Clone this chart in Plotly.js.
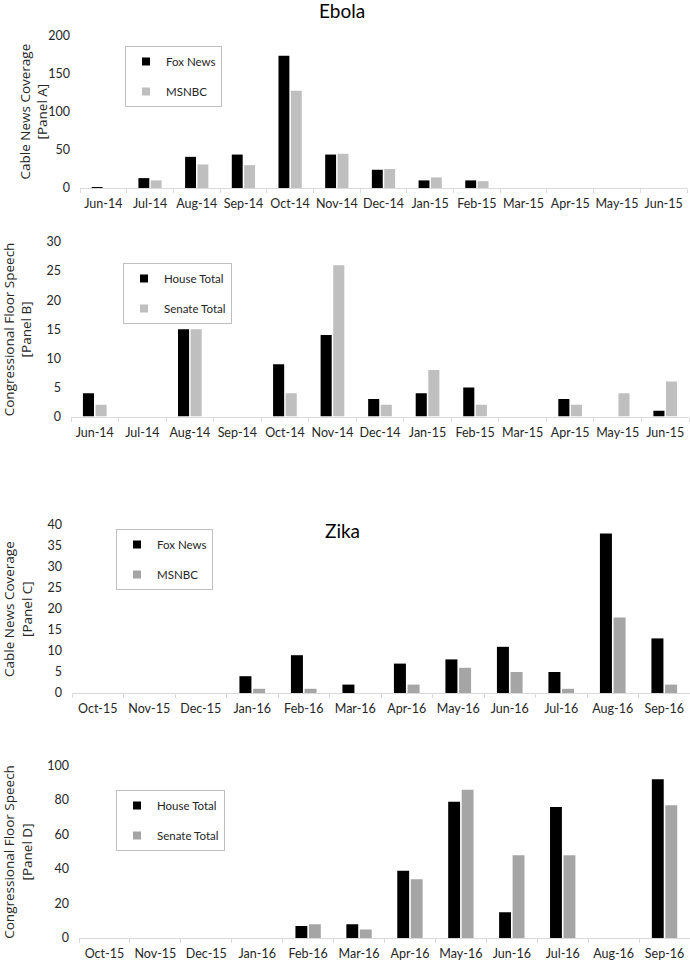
<!DOCTYPE html>
<html>
<head>
<meta charset="utf-8">
<script src="https://cdn.plot.ly/plotly-3.0.1.min.js"></script>
<style>
  html, body { margin: 0; padding: 0; background: #ffffff; }
  #chart { width: 690px; height: 963px; }
</style>
</head>
<body>
<div id="chart"></div>
<script>
// ---------- Data ----------
const ebolaMonths = ['Jun-14','Jul-14','Aug-14','Sep-14','Oct-14','Nov-14','Dec-14','Jan-15','Feb-15','Mar-15','Apr-15','May-15','Jun-15'];
const ebolaFox    = [1, 13, 41, 44, 174, 44, 24, 10, 10, 0, 0, 0, 0];
const ebolaMsnbc  = [0, 10, 31, 30, 128, 45, 25, 14, 9, 0, 0, 0, 0];
const ebolaHouse  = [4, 0, 15, 0, 9, 14, 3, 4, 5, 0, 3, 0, 1];
const ebolaSenate = [2, 0, 15, 0, 4, 26, 2, 8, 2, 0, 2, 4, 6];

const zikaMonths = ['Oct-15','Nov-15','Dec-15','Jan-16','Feb-16','Mar-16','Apr-16','May-16','Jun-16','Jul-16','Aug-16','Sep-16'];
const zikaFox    = [0, 0, 0, 4, 9, 2, 7, 8, 11, 5, 38, 13];
const zikaMsnbc  = [0, 0, 0, 1, 1, 0, 2, 6, 5, 1, 18, 2];
const zikaHouse  = [0, 0, 0, 0, 7, 8, 39, 79, 15, 76, 0, 92];
const zikaSenate = [0, 0, 0, 0, 8, 5, 34, 86, 48, 48, 0, 77];

const panelTitles = ['Cable News Coverage<br>[Panel A]', 'Congressional Floor Speech<br>[Panel B]',
                     'Cable News Coverage<br>[Panel C]', 'Congressional Floor Speech<br>[Panel D]'];

// ---------- Styling ----------
const W = 690, H = 963;
const px = v => v / W;
const py = v => 1 - v / H;
const TICKFONT = 'Lato, "Liberation Sans", sans-serif';
const TITLEFONT = '"Open Sans", "Liberation Sans", sans-serif';
const BLACK = '#000000';
const LIGHTGRAY = '#BFBFBF';
const MIDGRAY = '#A5A5A5';

function barTrace(x, y, name, color, ax) {
  return { type: 'bar', x: x, y: y, name: name, marker: { color: color, line: { width: 0 } },
           xaxis: 'x' + ax, yaxis: 'y' + ax, showlegend: false, hoverinfo: 'x+y+name' };
}
function legendTrace(name, color, ax, legendId) {
  return { type: 'scatter', mode: 'markers', x: [null], y: [null], name: name,
           marker: { symbol: 'square', size: 8, color: color },
           xaxis: 'x' + ax, yaxis: 'y' + ax, legend: legendId, legendgroup: name + ax, showlegend: true };
}

const data = [
  barTrace(ebolaMonths, ebolaFox, 'Fox News', BLACK, ''),
  barTrace(ebolaMonths, ebolaMsnbc, 'MSNBC', LIGHTGRAY, ''),
  barTrace(ebolaMonths, ebolaHouse, 'House Total', BLACK, '2'),
  barTrace(ebolaMonths, ebolaSenate, 'Senate Total', LIGHTGRAY, '2'),
  barTrace(zikaMonths, zikaFox, 'Fox News', BLACK, '3'),
  barTrace(zikaMonths, zikaMsnbc, 'MSNBC', MIDGRAY, '3'),
  barTrace(zikaMonths, zikaHouse, 'House Total', BLACK, '4'),
  barTrace(zikaMonths, zikaSenate, 'Senate Total', MIDGRAY, '4'),
  legendTrace('Fox News', BLACK, '', 'legend'),
  legendTrace('MSNBC', LIGHTGRAY, '', 'legend'),
  legendTrace('House Total', BLACK, '2', 'legend2'),
  legendTrace('Senate Total', LIGHTGRAY, '2', 'legend2'),
  legendTrace('Fox News', BLACK, '3', 'legend3'),
  legendTrace('MSNBC', MIDGRAY, '3', 'legend3'),
  legendTrace('House Total', BLACK, '4', 'legend4'),
  legendTrace('Senate Total', MIDGRAY, '4', 'legend4')
];

function xAxis(cats, left, right, anchor) {
  return {
    type: 'category', categoryorder: 'array', categoryarray: cats,
    domain: [px(left), Math.min(1, px(right))], anchor: anchor,
    showline: true, linecolor: '#D9D9D9', linewidth: 1,
    ticks: 'outside', tickson: 'boundaries', ticklen: 4, tickcolor: '#D9D9D9', tickwidth: 1,
    showgrid: false, zeroline: false, ticklabelstandoff: 4, tickangle: 0,
    tickfont: { family: TICKFONT, size: 12.5, color: '#262626' }, fixedrange: true
  };
}
function yAxis(top, bottom, max, dtick, anchor) {
  return {
    domain: [py(bottom), py(top)], anchor: anchor, range: [0, max], dtick: dtick,
    showline: false, showgrid: false, zeroline: false, ticks: '', ticklabelstandoff: 9,
    tickfont: { family: TICKFONT, size: 12.5, color: '#262626' }, fixedrange: true
  };
}
function legendBox(x, yTop) {
  return {
    x: px(x), y: py(yTop), xanchor: 'left', yanchor: 'top',
    bgcolor: '#FFFFFF', bordercolor: '#BFBFBF', borderwidth: 1,
    font: { family: TICKFONT, size: 11.5, color: '#262626' },
    traceorder: 'grouped', tracegroupgap: 11, itemwidth: 30
  };
}

const panels = [ [36, 188], [242, 416.5], [525, 693], [765.5, 938] ];
const annotations = panels.map((p, i) => ({
  text: panelTitles[i], xref: 'paper', yref: 'paper',
  x: px(i === 0 ? 33.5 : 18), y: py((p[0] + p[1]) / 2),
  xanchor: 'center', yanchor: 'middle', textangle: -90, showarrow: false,
  font: { family: TITLEFONT, size: 13.5, color: '#262626' }
}));
annotations.push({
  text: 'Zika', xref: 'paper', yref: 'paper', x: px(342), y: py(530),
  xanchor: 'center', yanchor: 'middle', showarrow: false,
  font: { family: TICKFONT, size: 19, color: '#000000' }
});

const layout = {
  width: W, height: H,
  margin: { l: 0, r: 0, t: 0, b: 0 },
  paper_bgcolor: '#FFFFFF', plot_bgcolor: '#FFFFFF',
  barmode: 'group', bargap: 0.47, bargroupgap: 0.12,
  title: { text: 'Ebola', x: px(342), xanchor: 'center', y: py(11), yanchor: 'middle',
           font: { family: TICKFONT, size: 19, color: '#000000' } },
  xaxis:  xAxis(ebolaMonths, 80, 687, 'y'),
  yaxis:  yAxis(36, 188, 200, 50, 'x'),
  xaxis2: xAxis(ebolaMonths, 71, 689, 'y2'),
  yaxis2: yAxis(242, 416.5, 30, 5, 'x2'),
  xaxis3: xAxis(zikaMonths, 72, 690, 'y3'),
  yaxis3: yAxis(525, 693, 40, 5, 'x3'),
  xaxis4: xAxis(zikaMonths, 79, 690, 'y4'),
  yaxis4: yAxis(765.5, 938, 100, 20, 'x4'),
  legend:  legendBox(125, 46),
  legend2: legendBox(123, 263),
  legend3: legendBox(116, 529),
  legend4: legendBox(116, 790),
  annotations: annotations,
  showlegend: true
};

Plotly.newPlot('chart', data, layout, { displayModeBar: false, responsive: false });
</script>
</body>
</html>
